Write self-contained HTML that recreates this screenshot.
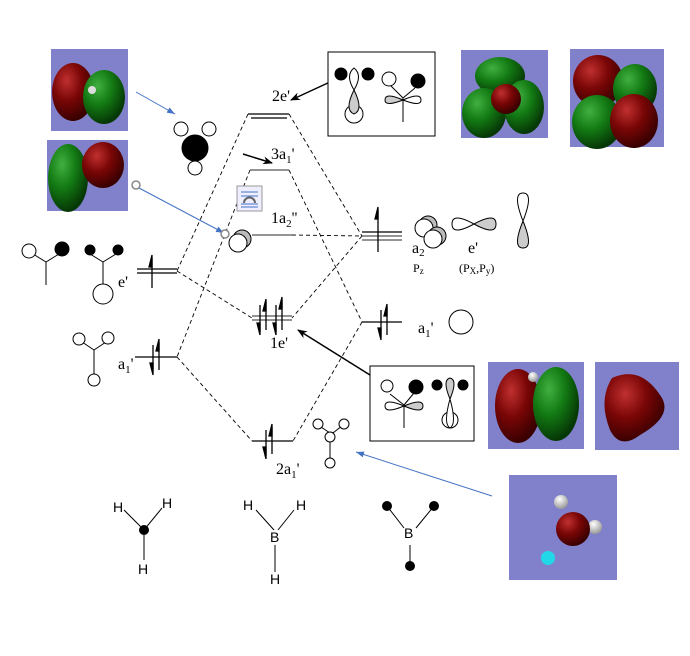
<!DOCTYPE html>
<html><head><meta charset="utf-8"><style>
html,body{margin:0;padding:0;background:#fff;}
svg{display:block;}
text{font-family:"Liberation Serif",serif;fill:#000;}
.s{font-family:"Liberation Sans",sans-serif;}
</style></head><body>
<svg width="690" height="656" viewBox="0 0 690 656" xmlns="http://www.w3.org/2000/svg">
<defs>
<marker id="ah" markerWidth="10" markerHeight="8" refX="9" refY="4" orient="auto" markerUnits="userSpaceOnUse"><path d="M0,0 L10,4 L0,8 L3,4z" fill="#000"/></marker>
<marker id="bh" markerWidth="8" markerHeight="6" refX="8" refY="3" orient="auto" markerUnits="userSpaceOnUse"><path d="M0,0 L8,3 L0,6z" fill="#4472c4"/></marker>
<radialGradient id="gr" cx="0.35" cy="0.3" r="0.7"><stop offset="0" stop-color="#c03030"/><stop offset="0.5" stop-color="#7a0606"/><stop offset="1" stop-color="#3a0000"/></radialGradient>
<radialGradient id="gg" cx="0.35" cy="0.3" r="0.7"><stop offset="0" stop-color="#40b040"/><stop offset="0.5" stop-color="#137a13"/><stop offset="1" stop-color="#063806"/></radialGradient>
<radialGradient id="gw" cx="0.4" cy="0.3" r="0.7"><stop offset="0" stop-color="#fff"/><stop offset="1" stop-color="#999"/></radialGradient>
</defs>

<g fill="#8181cb">
<rect x="51" y="49" width="77" height="82"/>
<rect x="47" y="140" width="81" height="71"/>
<rect x="461" y="50" width="87" height="88"/>
<rect x="570" y="49" width="94" height="98"/>
<rect x="488" y="362" width="96" height="87"/>
<rect x="595" y="362" width="84" height="88"/>
<rect x="509" y="475" width="108" height="105"/>
</g>
<ellipse cx="73" cy="92" rx="21" ry="29" fill="url(#gr)"/>
<ellipse cx="104" cy="97" rx="21" ry="27" fill="url(#gg)"/>
<circle cx="92" cy="90" r="4" fill="#ddd"/>
<ellipse cx="68" cy="178" rx="20" ry="34" fill="url(#gg)"/>
<ellipse cx="103" cy="165" rx="21" ry="23" fill="url(#gr)"/>
<ellipse cx="500" cy="76" rx="25" ry="19" fill="url(#gg)"/>
<ellipse cx="484" cy="113" rx="22" ry="25" fill="url(#gg)"/>
<ellipse cx="524" cy="107" rx="20" ry="27" fill="url(#gg)"/>
<ellipse cx="506" cy="99" rx="15" ry="15" fill="url(#gr)"/>
<ellipse cx="598" cy="81" rx="25" ry="26" fill="url(#gr)"/>
<ellipse cx="635" cy="89" rx="22" ry="25" fill="url(#gg)"/>
<ellipse cx="597" cy="122" rx="25" ry="27" fill="url(#gg)"/>
<ellipse cx="634" cy="121" rx="24" ry="27" fill="url(#gr)"/>
<ellipse cx="518" cy="406" rx="23" ry="37" fill="url(#gr)"/>
<ellipse cx="556" cy="404" rx="23" ry="37" fill="url(#gg)"/>
<circle cx="533" cy="377" r="5" fill="url(#gw)"/>
<path d="M612,378 Q640,365 660,395 Q675,415 640,435 Q620,450 610,430 Q598,400 612,378z" fill="url(#gr)"/>
<circle cx="561" cy="502" r="7" fill="url(#gw)"/>
<circle cx="595" cy="527" r="7" fill="url(#gw)"/>
<circle cx="573" cy="529" r="17" fill="url(#gr)"/>
<circle cx="548" cy="558" r="7" fill="#22d8e8"/>

<g stroke="#000" stroke-width="1.2">
<line x1="248" y1="114" x2="289" y2="114"/><line x1="251" y1="118" x2="287" y2="118"/>
<line x1="250" y1="170" x2="289" y2="170" stroke="#555"/>
<line x1="252" y1="235" x2="292" y2="235" stroke="#555"/>
<line x1="362" y1="232" x2="402" y2="232"/><line x1="362" y1="236" x2="402" y2="236" stroke="#555"/><line x1="362" y1="240" x2="402" y2="240" stroke="#555"/>
<line x1="137" y1="269" x2="177" y2="269"/><line x1="137" y1="273" x2="177" y2="273"/>
<line x1="252" y1="316" x2="292" y2="316" stroke="#555"/><line x1="252" y1="320" x2="292" y2="320" stroke="#555"/>
<line x1="362" y1="322" x2="402" y2="322"/>
<line x1="135" y1="357" x2="177" y2="357"/>
<line x1="252" y1="441" x2="293" y2="441"/>
</g>
<g stroke="#000" stroke-width="0.9" stroke-dasharray="4,3" fill="none">
<line x1="248" y1="114" x2="177" y2="271"/>
<line x1="289" y1="114" x2="362" y2="236"/>
<line x1="250" y1="170" x2="177" y2="357"/>
<line x1="289" y1="170" x2="362" y2="322"/>
<line x1="177" y1="271" x2="252" y2="318"/>
<line x1="362" y1="236" x2="292" y2="318"/>
<line x1="292" y1="235" x2="362" y2="236"/>
<line x1="177" y1="357" x2="252" y2="441"/>
<line x1="362" y1="322" x2="293" y2="441"/>
</g>
<g stroke="#000" stroke-width="1.3" fill="#000">
<line x1="152" y1="258" x2="152" y2="288"/><path d="M152,255 l-3,12 h3z"/>
<line x1="378" y1="210" x2="378" y2="252"/><path d="M378,207 l-3,12 h3z"/>
<line x1="153" y1="345" x2="153" y2="372"/><path d="M153,375 l-3,-12 h3z"/>
<line x1="159" y1="342" x2="159" y2="370"/><path d="M159,339 l-3,12 h3z"/>
<line x1="381" y1="310" x2="381" y2="337"/><path d="M381,340 l-3,-12 h3z"/>
<line x1="387" y1="307" x2="387" y2="335"/><path d="M387,304 l-3,12 h3z"/>
<line x1="260" y1="305" x2="260" y2="332"/><path d="M260,335 l-3,-12 h3z"/>
<line x1="266" y1="302" x2="266" y2="330"/><path d="M266,299 l-3,12 h3z"/>
<line x1="276" y1="305" x2="276" y2="332"/><path d="M276,335 l-3,-12 h3z"/>
<line x1="282" y1="300" x2="282" y2="330"/><path d="M282,297 l-3,12 h3z"/>
<line x1="266" y1="430" x2="266" y2="456"/><path d="M266,459 l-3,-12 h3z"/>
<line x1="272" y1="427" x2="272" y2="454"/><path d="M272,424 l-3,12 h3z"/>
</g>
<text x="272" y="101" font-size="16">2e'</text>
<text x="271" y="159" font-size="16">3a<tspan font-size="11" dy="4">1</tspan><tspan dy="-4">'</tspan></text>
<text x="271" y="223" font-size="16">1a<tspan font-size="11" dy="4">2</tspan><tspan dy="-4">''</tspan></text>
<text x="270" y="348" font-size="16">1e'</text>
<text x="276" y="474" font-size="16">2a<tspan font-size="11" dy="4">1</tspan><tspan dy="-4">'</tspan></text>
<text x="118" y="287" font-size="16">e'</text>
<text x="118" y="369" font-size="16">a<tspan font-size="11" dy="4">1</tspan><tspan dy="-4">'</tspan></text>
<text x="418" y="333" font-size="16">a<tspan font-size="11" dy="4">1</tspan><tspan dy="-4">'</tspan></text>
<text x="412" y="253" font-size="16">a<tspan font-size="11" dy="3">2</tspan></text>
<text x="413" y="272" font-size="12">P<tspan font-size="9" dy="2">z</tspan></text>
<text x="468" y="253" font-size="16">e'</text>
<text x="459" y="272" font-size="12">(P<tspan font-size="9" dy="2">X</tspan><tspan dy="-2">,P</tspan><tspan font-size="9" dy="2">y</tspan><tspan dy="-2">)</tspan></text>

<line x1="136" y1="92" x2="175" y2="114" stroke="#4472c4" stroke-width="1" marker-end="url(#bh)"/>
<line x1="139" y1="188" x2="224" y2="233" stroke="#4472c4" stroke-width="1" marker-end="url(#bh)"/>
<circle cx="136" cy="185" r="4" fill="#fff" stroke="#888" stroke-width="1.5"/>
<circle cx="225" cy="234" r="4" fill="#fff" stroke="#888" stroke-width="1.5"/>
<line x1="492" y1="496" x2="356" y2="452" stroke="#4472c4" stroke-width="1" marker-end="url(#bh)"/>
<line x1="243" y1="154" x2="272" y2="163" stroke="#000" stroke-width="1.5" marker-end="url(#ah)"/>
<line x1="330" y1="82" x2="291" y2="100" stroke="#000" stroke-width="1.5" marker-end="url(#ah)"/>
<line x1="370" y1="375" x2="298" y2="330" stroke="#000" stroke-width="1.5" marker-end="url(#ah)"/>

<rect x="237" y="186" width="25" height="25" fill="#eef" stroke="#999"/>
<g stroke="#4472c4" stroke-width="1"><line x1="241" y1="192" x2="258" y2="192"/><line x1="241" y1="196" x2="258" y2="196"/><line x1="241" y1="204" x2="258" y2="204"/><line x1="241" y1="207" x2="258" y2="207"/></g>
<path d="M244,203 a5,5 0 0 1 11,0" fill="none" stroke="#666" stroke-width="2"/>

<g stroke="#000" stroke-width="1" fill="#fff">
<line x1="195" y1="150" x2="195" y2="168"/>
<circle cx="181" cy="129" r="7"/><circle cx="209" cy="129" r="7"/><circle cx="195" cy="168" r="7"/>
<circle cx="195" cy="148" r="13" fill="#000"/>
<circle cx="242" cy="239" r="9" fill="#bbb"/><circle cx="238" cy="243" r="9"/>
</g>

<g stroke="#000" stroke-width="1" fill="#fff">
<path d="M46,262 L46,285 M46,262 L33,254 M46,262 L59,254 M103,262 L103,285 M103,262 L90,254 M103,262 L116,254" fill="none"/>
<circle cx="29" cy="251" r="7"/><circle cx="62" cy="249" r="7" fill="#000"/>
<circle cx="90" cy="250" r="5" fill="#000"/><circle cx="118" cy="250" r="5" fill="#000"/>
<circle cx="103" cy="294" r="10"/>
<path d="M94,350 L94,375 M94,350 L82,342 M94,350 L106,342" fill="none"/>
<circle cx="79" cy="339" r="6"/><circle cx="108" cy="338" r="6"/><circle cx="94" cy="380" r="6"/>
<path d="M330,433 L318,425 M333,433 L343,425 M330,440 L330,458" fill="none"/>
<circle cx="318" cy="424" r="5"/><circle cx="344" cy="424" r="5"/><circle cx="330" cy="437" r="5"/><circle cx="330" cy="463" r="5"/>
<circle cx="461" cy="322" r="12"/>
<circle cx="428" cy="225" r="9" fill="#bbb"/><circle cx="424" cy="228" r="9"/>
<circle cx="437" cy="236" r="9" fill="#bbb"/><circle cx="433" cy="239" r="9"/>
<path d="M474,224 Q452,212 452,224 Q452,236 474,224z"/>
<path d="M474,224 Q496,212 496,224 Q496,236 474,224z" fill="#ccc"/>
<path d="M523,221 Q512,193 523,193 Q534,193 523,221z"/>
<path d="M523,221 Q512,248 523,248 Q534,248 523,221z" fill="#ccc"/>
</g>

<rect x="328" y="52" width="107" height="84" fill="#fff" stroke="#000"/>
<g stroke="#000" stroke-width="1" fill="#fff">
<ellipse cx="354" cy="114" rx="9" ry="9"/>
<path d="M354,90 Q345,75 354,68 Q363,75 354,90z"/>
<path d="M354,90 Q344,110 354,114 Q364,110 354,90z" fill="#ccc"/>
<circle cx="341" cy="74" r="6" fill="#000"/><circle cx="368" cy="74" r="6" fill="#000"/>
<path d="M403,98 L403,122 M403,98 L391,86 M403,98 L415,88" fill="none"/>
<circle cx="389" cy="79" r="7"/><circle cx="418" cy="81" r="7" fill="#000"/>
<path d="M403,100 Q385,92 385,100 Q385,107 403,100z" fill="#ccc"/>
<path d="M403,100 Q421,92 421,100 Q421,107 403,100z"/>
</g>
<rect x="370" y="366" width="104" height="75" fill="#fff" stroke="#000"/>
<g stroke="#000" stroke-width="1" fill="#fff">
<path d="M404,405 L404,428 M404,405 L390,394 M404,405 L414,393" fill="none"/>
<circle cx="387" cy="386" r="6"/><circle cx="416" cy="387" r="7" fill="#000"/>
<path d="M404,406 Q385,398 385,406 Q385,414 404,406z"/>
<path d="M404,406 Q423,398 423,406 Q423,414 404,406z" fill="#ccc"/>
<ellipse cx="450" cy="420" rx="8" ry="8"/>
<path d="M450,399 Q443,424 450,428 Q457,424 450,399z"/>
<path d="M450,399 Q442,380 450,378 Q458,380 450,399z" fill="#ccc"/>
<circle cx="437" cy="385" r="5" fill="#000"/><circle cx="463" cy="385" r="5" fill="#000"/>
</g>

<g stroke="#000" stroke-width="1" fill="none">
<path d="M124,510 L144,530 L162,508 M144,530 L144,560"/>
<path d="M256,510 L274,530 M294,510 L278,530 M275,545 L275,572"/>
<path d="M387,506 L404,528 M434,506 L416,528 M410,545 L410,566"/>
</g>
<circle cx="144" cy="530" r="5" fill="#000"/>
<circle cx="387" cy="506" r="5" fill="#000"/><circle cx="434" cy="506" r="5" fill="#000"/><circle cx="410" cy="566" r="5" fill="#000"/>
<text class="s" x="113" y="512" font-size="14">H</text><text class="s" x="162" y="508" font-size="14">H</text><text class="s" x="138" y="574" font-size="14">H</text>
<text class="s" x="243" y="510" font-size="14">H</text><text class="s" x="296" y="510" font-size="14">H</text><text class="s" x="270" y="542" font-size="14">B</text><text class="s" x="270" y="584" font-size="14">H</text>
<text class="s" x="404" y="538" font-size="14">B</text>
</svg>
</body></html>
